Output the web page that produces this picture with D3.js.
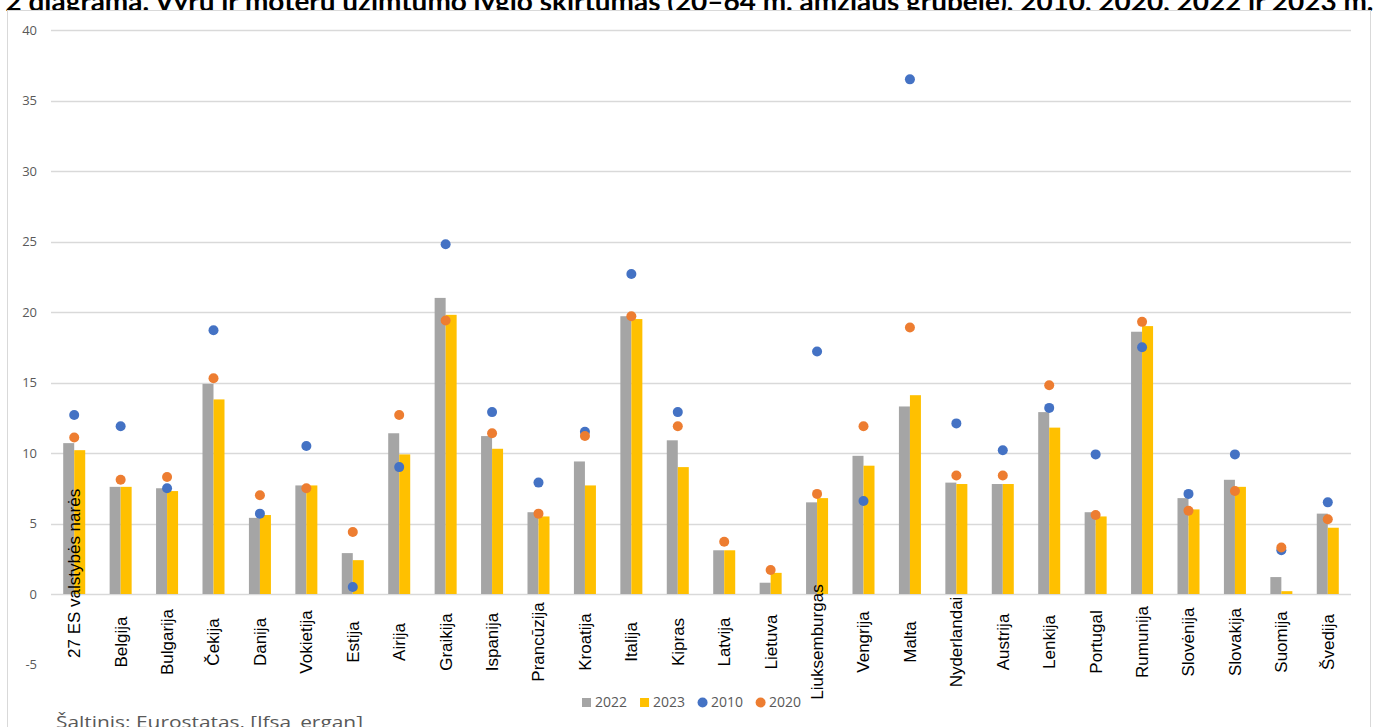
<!DOCTYPE html>
<html>
<head>
<meta charset="utf-8">
<script src="https://cdn.jsdelivr.net/npm/d3@7"></script>
<style>
  html, body { margin: 0; padding: 0; background: #fff; }
  svg { display: block; }
</style>
</head>
<body>
<svg id="chart" width="1379" height="727"></svg>
<script>
const title = "2 diagrama. Vyrų ir moterų užimtumo lygio skirtumas (20–64 m. amžiaus grupėje), 2010, 2020, 2022 ir 2023 m.";
const source = "Šaltinis: Eurostatas, [lfsa_ergan]";
const categories = ["27 ES valstybės narės","Belgija","Bulgarija","Čekija","Danija","Vokietija","Estija","Airija","Graikija","Ispanija","Prancūzija","Kroatija","Italija","Kipras","Latvija","Lietuva","Liuksemburgas","Vengrija","Malta","Nyderlandai","Austrija","Lenkija","Portugal","Rumunija","Slovėnija","Slovakija","Suomija","Švedija"];
const v2022 = [10.7, 7.6, 7.5, 14.9, 5.4, 7.7, 2.9, 11.4, 21.0, 11.2, 5.8, 9.4, 19.7, 10.9, 3.1, 0.8, 6.5, 9.8, 13.3, 7.9, 7.8, 12.9, 5.8, 18.6, 6.8, 8.1, 1.2, 5.7];
const v2023 = [10.2, 7.6, 7.3, 13.8, 5.6, 7.7, 2.4, 9.9, 19.8, 10.3, 5.5, 7.7, 19.5, 9.0, 3.1, 1.5, 6.8, 9.1, 14.1, 7.8, 7.8, 11.8, 5.5, 19.0, 6.0, 7.6, 0.2, 4.7];
const v2010 = [12.7, 11.9, 7.5, 18.7, 5.7, 10.5, 0.5, 9.0, 24.8, 12.9, 7.9, 11.5, 22.7, 12.9, null, null, 17.2, 6.6, 36.5, 12.1, 10.2, 13.2, 9.9, 17.5, 7.1, 9.9, 3.1, 6.5];
const v2020 = [11.1, 8.1, 8.3, 15.3, 7.0, 7.5, 4.4, 12.7, 19.4, 11.4, 5.7, 11.2, 19.7, 11.9, 3.7, 1.7, 7.1, 11.9, 18.9, 8.4, 8.4, 14.8, 5.6, 19.3, 5.9, 7.3, 3.3, 5.3];
const yTicks = [-5, 0, 5, 10, 15, 20, 25, 30, 35, 40];
const legendItems = [
  {label: "2022", type: "rect", color: "#A5A5A5"},
  {label: "2023", type: "rect", color: "#FFC000"},
  {label: "2010", type: "circle", color: "#4472C4"},
  {label: "2020", type: "circle", color: "#ED7D31"}
];

const svg = d3.select("#chart");

// Title (partly hidden behind chart area, as in reference)
svg.append("text")
  .attr("x", 689.5).attr("y", 11)
  .attr("text-anchor", "middle")
  .attr("font-family", "Lato, 'Open Sans', sans-serif")
  .attr("font-weight", "bold")
  .attr("font-size", 27)
  .attr("textLength", 1368)
  .attr("lengthAdjust", "spacingAndGlyphs")
  .attr("fill", "#000")
  .text(title);

// Chart area frame
svg.append("rect")
  .attr("x", 7.5).attr("y", 10.5)
  .attr("width", 1363).attr("height", 760)
  .attr("fill", "#fff")
  .attr("stroke", "#D9D9D9").attr("stroke-width", 1);

const x = d3.scaleBand().domain(categories).range([51, 1351]);
const y = d3.scaleLinear().domain([-5, 40]).range([664.5, 30]);
const bw = x.bandwidth() * 0.237;
const cx = c => x(c) + x.bandwidth() / 2;

// Gridlines
svg.append("g").selectAll("line")
  .data(yTicks.filter(t => t >= 0))
  .join("line")
  .attr("x1", 51).attr("x2", 1351)
  .attr("y1", d => Math.round(y(d)) + 0.5).attr("y2", d => Math.round(y(d)) + 0.5)
  .attr("stroke", "#D9D9D9").attr("stroke-width", 1.3);

// Y tick labels
svg.append("g").selectAll("text")
  .data(yTicks)
  .join("text")
  .attr("x", 37).attr("y", d => y(d))
  .attr("dy", "0.35em")
  .attr("text-anchor", "end")
  .attr("font-family", "'Open Sans', sans-serif")
  .attr("font-size", 13)
  .attr("fill", "#595959")
  .text(d => d);

// Bars
const bars = svg.append("g");
bars.selectAll("rect.b22").data(categories).join("rect")
  .attr("class", "b22")
  .attr("x", c => cx(c) - bw).attr("width", bw)
  .attr("y", (c, i) => y(Math.max(0, v2022[i])))
  .attr("height", (c, i) => Math.abs(y(v2022[i]) - y(0)))
  .attr("fill", "#A5A5A5");
bars.selectAll("rect.b23").data(categories).join("rect")
  .attr("class", "b23")
  .attr("x", c => cx(c)).attr("width", bw)
  .attr("y", (c, i) => y(Math.max(0, v2023[i])))
  .attr("height", (c, i) => Math.abs(y(v2023[i]) - y(0)))
  .attr("fill", "#FFC000");

// Category labels (rotated)
const labG = svg.append("g");
categories.forEach(c => {
  const t = labG.append("text")
    .attr("font-family", "'Liberation Sans', Arial, sans-serif")
    .attr("font-size", 17)
    .attr("fill", "#000")
    .attr("dy", "0.35em")
    .text(c);
  const len = t.node().getComputedTextLength();
  let yc = 642;
  if (len > 160) yc = 658 - len / 2;
  t.attr("text-anchor", "middle")
   .attr("transform", `translate(${cx(c)},${yc}) rotate(-90)`);
});

// Dots
const dots = svg.append("g");
dots.selectAll("circle.d10").data(categories.map((c, i) => ({c, v: v2010[i]})).filter(d => d.v != null))
  .join("circle").attr("class", "d10")
  .attr("cx", d => cx(d.c)).attr("cy", d => y(d.v)).attr("r", 5)
  .attr("fill", "#4472C4");
dots.selectAll("circle.d20").data(categories.map((c, i) => ({c, v: v2020[i]})).filter(d => d.v != null))
  .join("circle").attr("class", "d20")
  .attr("cx", d => cx(d.c)).attr("cy", d => y(d.v)).attr("r", 5)
  .attr("fill", "#ED7D31");

// Legend
const lg = svg.append("g");
let lx = 582;
const ly = 702.5;
legendItems.forEach(it => {
  if (it.type === "rect") {
    lg.append("rect").attr("x", lx).attr("y", ly - 4.5).attr("width", 9).attr("height", 9).attr("fill", it.color);
  } else {
    lg.append("circle").attr("cx", lx + 4.5).attr("cy", ly).attr("r", 5).attr("fill", it.color);
  }
  const t = lg.append("text")
    .attr("x", lx + 13).attr("y", ly).attr("dy", "0.35em")
    .attr("font-family", "'Open Sans', sans-serif")
    .attr("font-size", 14)
    .attr("fill", "#595959")
    .text(it.label);
  lx += 13 + t.node().getComputedTextLength() + 13;
});

// Source
svg.append("text")
  .attr("x", 56).attr("y", 728)
  .attr("font-family", "'Open Sans', sans-serif")
  .attr("font-size", 17)
  .attr("textLength", 307)
  .attr("lengthAdjust", "spacingAndGlyphs")
  .attr("fill", "#595959")
  .text(source);
</script>
</body>
</html>
